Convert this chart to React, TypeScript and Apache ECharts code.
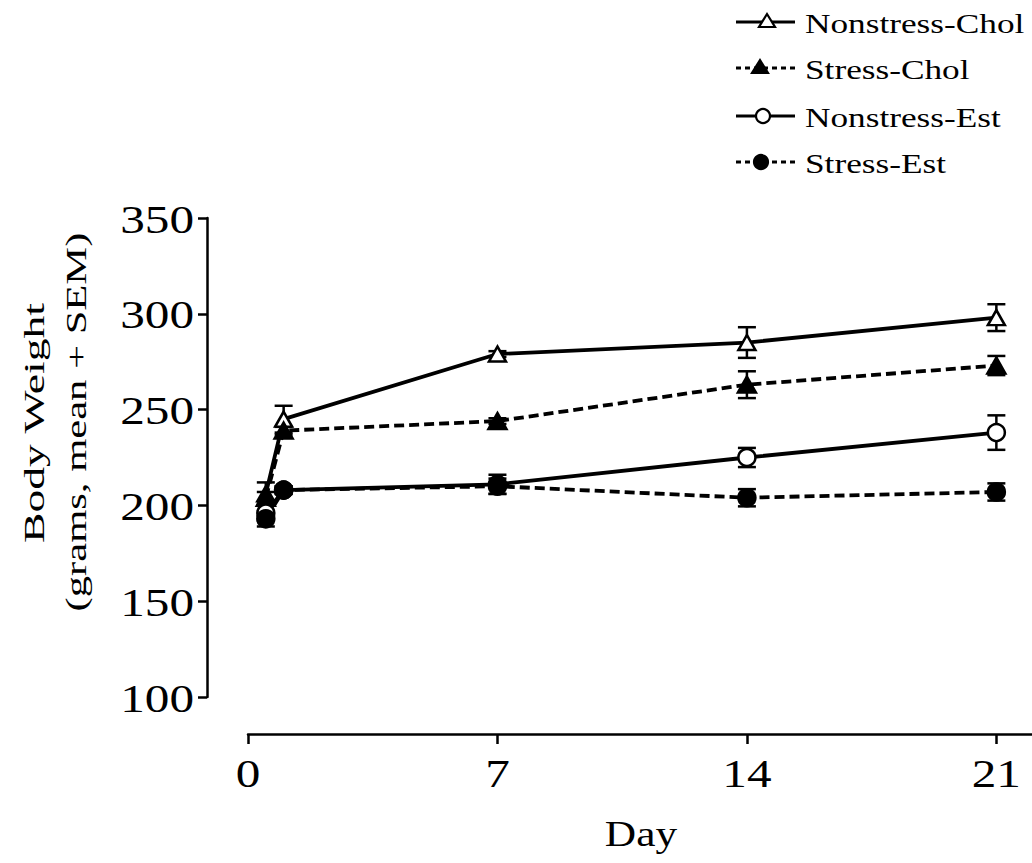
import React, { useEffect, useRef } from "react";
import * as echarts from "echarts";

// Days on which body weight was measured
const days = [0.5, 1, 7, 14, 21];

// Group means (grams) and SEM
const nonstressChol = [206, 245, 279, 285, 298];
const nonstressCholSem = [6, 7, 1.5, 8, 7];
const stressChol = [204, 239, 244, 263, 273];
const stressCholSem = [3, 2, 1.5, 7, 5];
const nonstressEst = [196, 208, 211, 225, 238];
const nonstressEstSem = [4, 2, 5, 5, 9];
const stressEst = [193, 208, 210, 204, 207];
const stressEstSem = [4, 2, 4, 4.5, 4.5];

// Axis ticks
const xTicks = [0, 7, 14, 21];
const yTicks = [100, 150, 200, 250, 300, 350];

const seriesNames = ["Nonstress-Chol", "Stress-Chol", "Nonstress-Est", "Stress-Est"];

const FONT = '"Liberation Serif", "Times New Roman", serif';
const INK = "#000";

type Group = {
  name: string;
  values: number[];
  sem: number[];
  symbol: string;
  size: number[];
  filled: boolean;
  dashed: boolean;
};

const groups: Group[] = [
  { name: seriesNames[0], values: nonstressChol, sem: nonstressCholSem, symbol: "triangle", size: [17, 15], filled: false, dashed: false },
  { name: seriesNames[1], values: stressChol, sem: stressCholSem, symbol: "triangle", size: [18, 16], filled: true, dashed: true },
  { name: seriesNames[2], values: nonstressEst, sem: nonstressEstSem, symbol: "circle", size: [17, 17], filled: false, dashed: false },
  { name: seriesNames[3], values: stressEst, sem: stressEstSem, symbol: "circle", size: [17, 17], filled: true, dashed: true },
];

function text(
  str: string,
  x: number,
  y: number,
  size: number,
  align: string,
  scaleX: number,
  extra: Record<string, unknown> = {}
) {
  return {
    type: "text",
    x,
    y,
    scaleX,
    silent: true,
    ...extra,
    style: {
      text: str,
      fill: INK,
      font: `${size}px ${FONT}`,
      align,
      verticalAlign: "middle",
      textAlign: align,
      textVerticalAlign: "middle",
    },
  };
}

export default function App() {
  const ref = useRef<HTMLDivElement>(null);

  useEffect(() => {
    if (!ref.current) return;
    const chart = echarts.init(ref.current, undefined, { renderer: "svg" });

    const lineSeries = groups.map((g) => ({
      name: g.name,
      type: "line",
      z: 3,
      data: days.map((d, i) => [d, g.values[i]]),
      symbol: g.symbol,
      symbolSize: g.size,
      showSymbol: true,
      lineStyle: { color: INK, width: 3.8, type: g.dashed ? [10, 5] : "solid" },
      itemStyle: { color: g.filled ? INK : "#fff", borderColor: INK, borderWidth: 2.5 },
      emphasis: { disabled: true },
    }));

    const errorSeries = groups.map((g) => ({
      name: g.name + " SEM",
      type: "custom",
      z: 2,
      data: days.map((d, i) => [d, g.values[i] - g.sem[i], g.values[i] + g.sem[i]]),
      encode: { x: 0, y: [1, 2] },
      renderItem: (_params: any, api: any) => {
        const x = api.value(0);
        const top = api.coord([x, api.value(2)]);
        const bot = api.coord([x, api.value(1)]);
        const hw = 9;
        const st = { stroke: INK, lineWidth: 2.5 };
        return {
          type: "group",
          children: [
            { type: "line", shape: { x1: top[0], y1: top[1], x2: bot[0], y2: bot[1] }, style: st },
            { type: "line", shape: { x1: top[0] - hw, y1: top[1], x2: top[0] + hw, y2: top[1] }, style: st },
            { type: "line", shape: { x1: bot[0] - hw, y1: bot[1], x2: bot[0] + hw, y2: bot[1] }, style: st },
          ],
        };
      },
    }));

    const option: any = {
      animation: false,
      backgroundColor: "#fff",
      grid: { left: 248, top: 218, width: (22 * 250) / 7, height: 479, containLabel: false },
      xAxis: {
        type: "value",
        min: 0,
        max: 22,
        interval: 7,
        offset: 37,
        axisLine: { show: true, onZero: false, lineStyle: { color: INK, width: 2.5 } },
        axisTick: { show: true, length: 10, lineStyle: { color: INK, width: 2.5 }, customValues: xTicks },
        axisLabel: { show: false },
        splitLine: { show: false },
      },
      yAxis: {
        type: "value",
        min: 100,
        max: 350,
        interval: 50,
        offset: 41,
        axisLine: { show: true, onZero: false, lineStyle: { color: INK, width: 2.5 } },
        axisTick: { show: true, length: 9, lineStyle: { color: INK, width: 2.5 } },
        axisLabel: { show: false },
        splitLine: { show: false },
      },
      series: [...errorSeries, ...lineSeries],
    };
    chart.setOption(option);

    // Tick labels, axis titles and legend drawn as stretched serif text
    const graphics: any[] = [];
    yTicks.forEach((v) => {
      const py = chart.convertToPixel({ yAxisIndex: 0 }, v) as number;
      graphics.push(text(String(v), 194, py + 1, 41, "right", 1.2));
    });
    xTicks.forEach((v) => {
      const px = chart.convertToPixel({ xAxisIndex: 0 }, v) as number;
      graphics.push(text(String(v), px, 773, 41, "center", 1.2));
    });
    graphics.push(text("Day", 641, 834, 35, "center", 1.24));
    graphics.push(text("Body Weight", 34, 423, 30, "center", 1.52, { rotation: Math.PI / 2 }));
    graphics.push(text("(grams, mean + SEM)", 76, 422, 30, "center", 1.42, { rotation: Math.PI / 2 }));

    const legendY = [22, 68, 116, 162];
    const markerX = [767, 760, 763, 761];
    groups.forEach((g, i) => {
      const y = legendY[i];
      graphics.push({
        type: "line",
        silent: true,
        shape: { x1: 736, y1: y, x2: 795, y2: y },
        style: { stroke: INK, lineWidth: 3, lineDash: g.dashed ? [5, 4] : null },
      });
      const mx = markerX[i];
      if (g.symbol === "triangle") {
        graphics.push({
          type: "polygon",
          silent: true,
          shape: { points: [[mx, y - 8], [mx + 8, y + 5], [mx - 8, y + 5]] },
          style: { fill: g.filled ? INK : "#fff", stroke: INK, lineWidth: 2.2 },
        });
      } else {
        graphics.push({
          type: "circle",
          silent: true,
          shape: { cx: mx, cy: y, r: 7 },
          style: { fill: g.filled ? INK : "#fff", stroke: INK, lineWidth: 2.2 },
        });
      }
      graphics.push(text(g.name, 805, y + 2, 28, "left", 1.26));
    });

    chart.setOption({ graphic: graphics });

    return () => chart.dispose();
  }, []);

  return (
    <div
      ref={ref}
      style={{ position: "absolute", left: 0, top: 0, width: 1032, height: 863, background: "#fff" }}
    />
  );
}
